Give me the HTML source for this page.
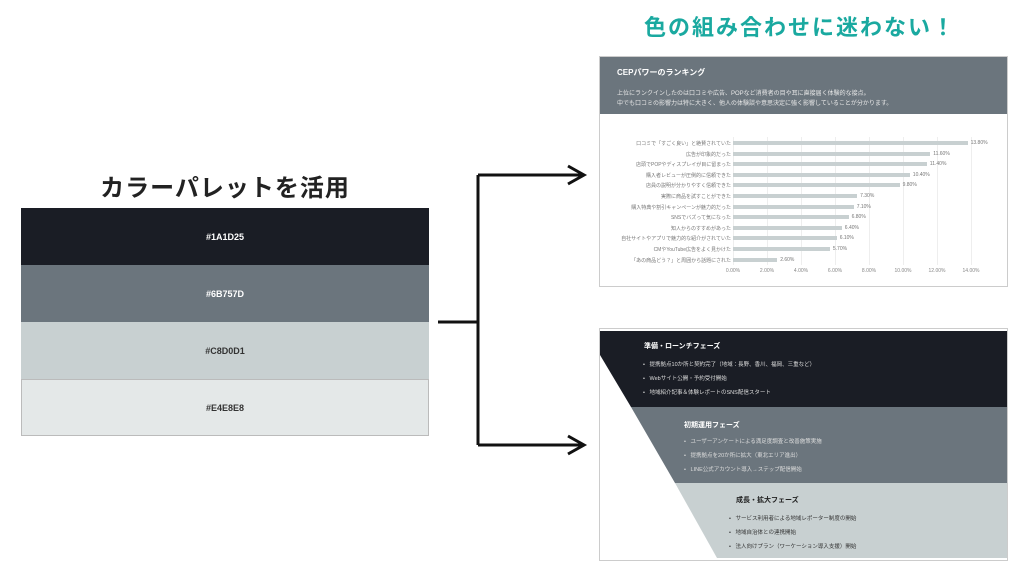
<!DOCTYPE html><html><head><meta charset="utf-8"><style>
body{margin:0;width:1024px;height:576px;background:#fff;position:relative;overflow:hidden;font-family:"Liberation Sans","Noto Sans CJK JP",sans-serif}
.a{position:absolute}
.sw{position:absolute;left:21px;width:408px;height:57px;display:flex;align-items:center;justify-content:center;font-size:9px;font-weight:bold}
.lbl{position:absolute;right:293px;font-size:5px;color:#777;white-space:nowrap;text-align:right}
.bar{position:absolute;left:733px;height:4px;background:#c8d0d1}
.val{position:absolute;font-size:5px;color:#777}
.ax{position:absolute;top:268px;font-size:5px;color:#888;transform:translateX(-50%)}
.ph{position:absolute;font-size:7px;font-weight:bold}
.li{position:absolute;font-size:5.5px;white-space:nowrap}
</style></head><body>
<div class="a" style="left:0;width:450px;top:168px;text-align:center;font-size:24px;font-weight:bold;color:#222;letter-spacing:1px">カラーパレットを活用</div>
<div class="sw" style="top:208px;background:#1a1d25;color:#fff">#1A1D25</div>
<div class="sw" style="top:265px;background:#6b757d;color:#fff">#6B757D</div>
<div class="sw" style="top:322px;background:#c8d0d1;color:#333">#C8D0D1</div>
<div class="sw" style="top:379px;background:#e4e8e8;color:#333;box-sizing:border-box;border:1px solid #bbb">#E4E8E8</div>
<div class="a" style="left:560px;width:480px;top:10px;text-align:center;font-size:22px;font-weight:bold;color:#1aa9a0;letter-spacing:2px">色の組み合わせに迷わない！</div>
<svg class="a" style="left:0;top:0" width="1024" height="576">
<path d="M438 322H478M478 175V445M478 175H582M478 445H582" stroke="#111" stroke-width="3" fill="none"/>
<path d="M568 166L584 175L568 184" stroke="#111" stroke-width="3" fill="none"/>
<path d="M568 436L584 445L568 454" stroke="#111" stroke-width="3" fill="none"/>
</svg>
<div class="a" style="left:599px;top:56px;width:407px;height:229px;border:1px solid #ccc"></div>
<div class="a" style="left:600px;top:57px;width:407px;height:57px;background:#6b757d"></div>
<div class="a" style="left:617px;top:67px;font-size:8px;font-weight:bold;color:#fff">CEPパワーのランキング</div>
<div class="a" style="left:617px;top:89px;font-size:6px;color:#e8e8e8;line-height:10px;white-space:nowrap">上位にランクインしたのは口コミや広告、POPなど消費者の目や耳に直接届く体験的な接点。<br>中でも口コミの影響力は特に大きく、他人の体験談や意思決定に強く影響していることが分かります。</div>
<div id="chart"></div>
<script>
var d=[["口コミで「すごく良い」と絶賛されていた",13.8],["広告が印象的だった",11.6],["店頭でPOPやディスプレイが目に留まった",11.4],["購入者レビューが圧倒的に信頼できた",10.4],["店員の説明が分かりやすく信頼できた",9.8],["実際に商品を試すことができた",7.3],["購入特典や割引キャンペーンが魅力的だった",7.1],["SNSでバズって気になった",6.8],["知人からのすすめがあった",6.4],["自社サイトやアプリで魅力的な紹介がされていた",6.1],["CMやYouTube広告をよく見かけた",5.7],["「あの商品どう？」と周囲から話題にされた",2.6]];
var h="";for(var g=0;g<=7;g++){var x=733+g*34;h+='<div class="a" style="left:'+x+'px;top:137px;width:1px;height:128px;background:#eee"></div><div class="ax" style="left:'+x+'px">'+(g*2).toFixed(2)+'%</div>';}
d.forEach(function(r,i){var y=143+i*10.6;var w=r[1]/14*238;h+='<div class="lbl" style="top:'+(y-3)+'px">'+r[0]+'</div><div class="bar" style="top:'+(y-2)+'px;width:'+w+'px"></div><div class="val" style="left:'+(733+w+3)+'px;top:'+(y-3)+'px">'+r[1].toFixed(2)+'%</div>';});
document.getElementById('chart').innerHTML=h;
</script>
<div class="a" style="left:599px;top:328px;width:407px;height:231px;border:1px solid #ccc"></div>
<svg class="a" style="left:0;top:0" width="1024" height="576">
<polygon points="600,331 1007,331 1007,407 631,407 600,355" fill="#1a1d25"/>
<polygon points="631,407 1007,407 1007,483 675,483" fill="#6b757d"/>
<polygon points="675,483 1007,483 1007,558 717,558" fill="#c8d0d1"/>
</svg>
<div class="ph" style="left:644px;top:341px;color:#fff">準備・ローンチフェーズ</div>
<div class="li" style="left:643px;top:360px;color:#ddd">•&nbsp;&nbsp; 提携拠点10か所と契約完了（地域：長野、香川、福岡、三重など）</div>
<div class="li" style="left:643px;top:374px;color:#ddd">•&nbsp;&nbsp; Webサイト公開・予約受付開始</div>
<div class="li" style="left:643px;top:388px;color:#ddd">•&nbsp;&nbsp; 地域紹介記事＆体験レポートのSNS配信スタート</div>
<div class="ph" style="left:684px;top:420px;color:#fff">初期運用フェーズ</div>
<div class="li" style="left:684px;top:437px;color:#ddd">•&nbsp;&nbsp; ユーザーアンケートによる満足度調査と改善施策実施</div>
<div class="li" style="left:684px;top:451px;color:#ddd">•&nbsp;&nbsp; 提携拠点を20か所に拡大（東北エリア進出）</div>
<div class="li" style="left:684px;top:465px;color:#ddd">•&nbsp;&nbsp; LINE公式アカウント導入→ステップ配信開始</div>
<div class="ph" style="left:736px;top:495px;color:#222">成長・拡大フェーズ</div>
<div class="li" style="left:729px;top:514px;color:#333">•&nbsp;&nbsp; サービス利用者による地域レポーター制度の開始</div>
<div class="li" style="left:729px;top:528px;color:#333">•&nbsp;&nbsp; 地域自治体との連携開始</div>
<div class="li" style="left:729px;top:542px;color:#333">•&nbsp;&nbsp; 法人向けプラン（ワーケーション導入支援）開始</div>
</body></html>
